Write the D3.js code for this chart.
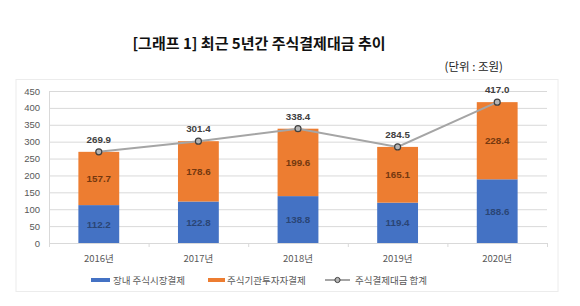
<!DOCTYPE html>
<html>
<head>
<meta charset="utf-8">
<script src="https://cdn.jsdelivr.net/npm/d3@7"></script>
<style>
  body { margin: 0; background: #fff; }
  svg text { font-family: 'Noto Sans CJK KR', 'Noto Sans', sans-serif; }
</style>
</head>
<body>
<div class="container"></div>
<script>
const years = ['2016년', '2017년', '2018년', '2019년', '2020년']
const exchange = [112.2, 122.8, 138.8, 119.4, 188.6]
const institutional = [157.7, 178.6, 199.6, 165.1, 228.4]
const totals = [269.9, 301.4, 338.4, 284.5, 417.0]
const yTicks = [0, 50, 100, 150, 200, 250, 300, 350, 400, 450]
const seriesNames = ['장내 주식시장결제', '주식기관투자자결제', '주식결제대금 합계']

const W = 580
const H = 306
const plot = { left: 49, right: 547, top: 91, bottom: 243 }

const svg = d3.select('.container').append('svg').attr('width', W).attr('height', H)

svg.append('text')
  .attr('x', 259).attr('y', 49)
  .attr('text-anchor', 'middle')
  .attr('font-size', '15px').attr('font-weight', 'bold').attr('fill', '#111')
  .text('[그래프 1] 최근 5년간 주식결제대금 추이')

svg.append('text')
  .attr('x', 503).attr('y', 71)
  .attr('text-anchor', 'end')
  .attr('font-size', '11.5px').attr('fill', '#222')
  .text('(단위 : 조원)')

// chart frame
svg.append('rect')
  .attr('x', 16).attr('y', 79.5).attr('width', 542).attr('height', 212)
  .attr('fill', 'none').attr('stroke', '#ececec')

const x = d3.scaleBand().domain(years).range([plot.left, plot.right])
  .paddingInner(0.59).paddingOuter(0.295)
const y = d3.scaleLinear().domain([0, 450]).range([plot.bottom, plot.top])

// gridlines
svg.append('g')
  .selectAll('line')
  .data(yTicks.slice(1))
  .enter()
  .append('line')
  .attr('x1', plot.left).attr('x2', plot.right)
  .attr('y1', (d) => y(d) + 0.5).attr('y2', (d) => y(d) + 0.5)
  .attr('stroke', '#d9d9d9')

// y axis labels
const yAxis = d3.axisLeft(y).tickValues(yTicks).tickSize(0).tickPadding(9)
const gy = svg.append('g').attr('transform', `translate(${plot.left},0)`).call(yAxis)
gy.select('.domain').remove()
gy.selectAll('text').attr('font-size', '9.5px').attr('fill', '#595959')
  .style('font-family', "'Liberation Sans', Arial, sans-serif")

// left axis line
svg.append('line')
  .attr('x1', plot.left + 0.5).attr('x2', plot.left + 0.5)
  .attr('y1', plot.top).attr('y2', plot.bottom)
  .attr('stroke', '#d9d9d9')

// x axis
const step = x.step()
svg.append('line')
  .attr('x1', plot.left).attr('x2', plot.right)
  .attr('y1', plot.bottom + 0.5).attr('y2', plot.bottom + 0.5)
  .attr('stroke', '#d9d9d9')
svg.append('g')
  .selectAll('line')
  .data(d3.range(years.length + 1))
  .enter()
  .append('line')
  .attr('x1', (i) => plot.left + i * step + 0.5)
  .attr('x2', (i) => plot.left + i * step + 0.5)
  .attr('y1', plot.bottom).attr('y2', plot.bottom + 4)
  .attr('stroke', '#d9d9d9')

svg.append('g')
  .selectAll('text')
  .data(years)
  .enter()
  .append('text')
  .attr('x', (d) => x(d) + x.bandwidth() / 2)
  .attr('y', 262)
  .attr('text-anchor', 'middle')
  .attr('font-size', '9.5px').attr('fill', '#595959')
  .text((d) => d)

// stacked bars
const rows = years.map((yr, i) => ({ year: yr, a: exchange[i], b: institutional[i], t: totals[i] }))

svg.append('g')
  .selectAll('rect')
  .data(rows)
  .enter()
  .append('rect')
  .attr('x', (d) => x(d.year))
  .attr('width', x.bandwidth())
  .attr('y', (d) => y(d.a))
  .attr('height', (d) => y(0) - y(d.a))
  .attr('fill', '#4472c4')

svg.append('g')
  .selectAll('rect')
  .data(rows)
  .enter()
  .append('rect')
  .attr('x', (d) => x(d.year))
  .attr('width', x.bandwidth())
  .attr('y', (d) => y(d.a + d.b))
  .attr('height', (d) => y(d.a) - y(d.a + d.b))
  .attr('fill', '#ed7d31')

const labelFont = "'Liberation Sans', Arial, sans-serif"

svg.append('g')
  .selectAll('text')
  .data(rows)
  .enter()
  .append('text')
  .attr('x', (d) => x(d.year) + x.bandwidth() / 2)
  .attr('y', (d) => (y(0) + y(d.a)) / 2 + 3.5)
  .attr('text-anchor', 'middle')
  .attr('font-size', '9.8px').attr('font-weight', 'bold').attr('fill', '#2a4575')
  .style('font-family', labelFont)
  .text((d) => d.a.toFixed(1))

svg.append('g')
  .selectAll('text')
  .data(rows)
  .enter()
  .append('text')
  .attr('x', (d) => x(d.year) + x.bandwidth() / 2)
  .attr('y', (d) => (y(d.a) + y(d.a + d.b)) / 2 + 3.5)
  .attr('text-anchor', 'middle')
  .attr('font-size', '9.8px').attr('font-weight', 'bold').attr('fill', '#74380f')
  .style('font-family', labelFont)
  .text((d) => d.b.toFixed(1))

// total line
const cx = (d) => x(d.year) + x.bandwidth() / 2
const line = d3.line().x(cx).y((d) => y(d.t))
svg.append('path')
  .datum(rows)
  .attr('d', line)
  .attr('fill', 'none')
  .attr('stroke', '#a5a5a5')
  .attr('stroke-width', 2)

svg.append('g')
  .selectAll('circle')
  .data(rows)
  .enter()
  .append('circle')
  .attr('cx', cx)
  .attr('cy', (d) => y(d.t))
  .attr('r', 3)
  .attr('fill', '#b5b5b5')
  .attr('stroke', '#404040')
  .attr('stroke-width', 1.2)

svg.append('g')
  .selectAll('text')
  .data(rows)
  .enter()
  .append('text')
  .attr('x', cx)
  .attr('y', (d) => y(d.t) - 9)
  .attr('text-anchor', 'middle')
  .attr('font-size', '9.8px').attr('font-weight', 'bold').attr('fill', '#404040')
  .style('font-family', labelFont)
  .text((d) => d.t.toFixed(1))

// legend
const legend = svg.append('g').attr('transform', 'translate(0,280)')
const legendX = [91, 208, 325]
legend.append('rect').attr('x', legendX[0]).attr('y', -2).attr('width', 19).attr('height', 4).attr('fill', '#4472c4')
legend.append('rect').attr('x', legendX[1]).attr('y', -2).attr('width', 17).attr('height', 4).attr('fill', '#ed7d31')
legend.append('line').attr('x1', legendX[2]).attr('x2', legendX[2] + 25).attr('y1', 0).attr('y2', 0)
  .attr('stroke', '#a5a5a5').attr('stroke-width', 2)
legend.append('circle').attr('cx', legendX[2] + 12.5).attr('cy', 0).attr('r', 2.6)
  .attr('fill', '#b5b5b5').attr('stroke', '#404040').attr('stroke-width', 1)

const legendTextX = [113, 227, 355]
legend.selectAll('text.lg')
  .data(seriesNames)
  .enter()
  .append('text')
  .attr('class', 'lg')
  .attr('x', (d, i) => legendTextX[i])
  .attr('y', 3.5)
  .attr('font-size', '9.5px').attr('fill', '#595959')
  .text((d) => d)
</script>
</body>
</html>
